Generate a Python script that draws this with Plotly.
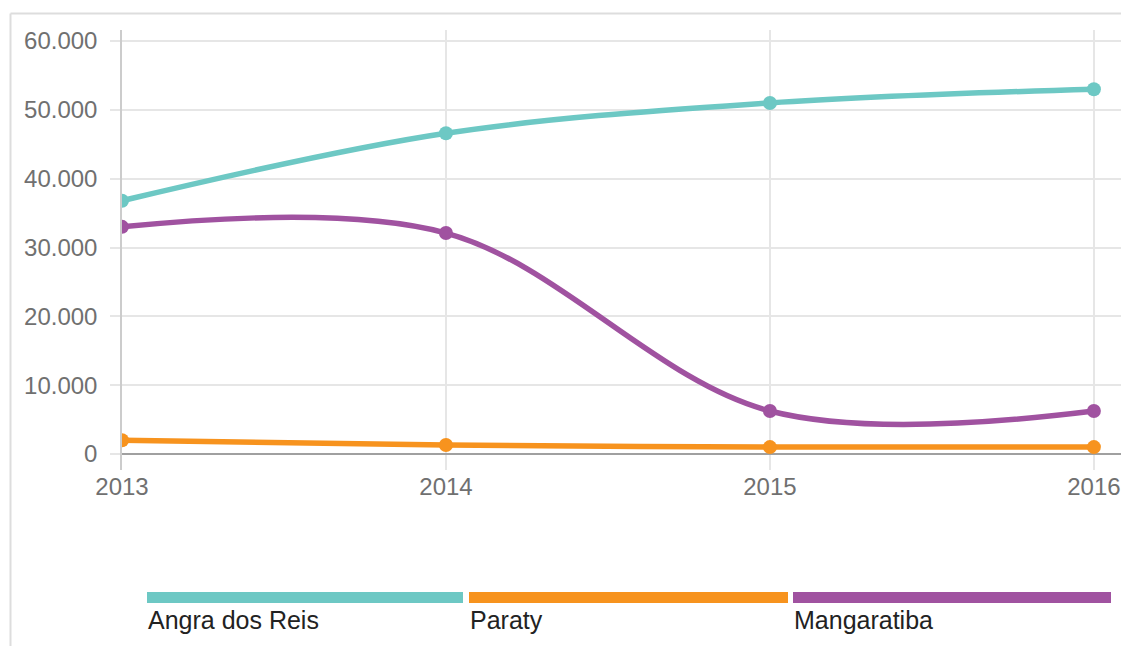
import plotly.graph_objects as go

years = [2013, 2014, 2015, 2016]
series_names = ["Angra dos Reis", "Paraty", "Mangaratiba"]
angra = [36800, 46600, 51000, 53000]
paraty = [2000, 1300, 1000, 1000]
mangaratiba = [33000, 32100, 6250, 6250]
colors = ["#6DC8C4", "#F7931E", "#A052A0"]
y_ticks = [0, 10000, 20000, 30000, 40000, 50000, 60000]

OFF = 8  # page body margin
W, H = 1129 - OFF, 646 - OFF
L, T = 122 - OFF, 30 - OFF
R = W - (1125 - OFF)
B = H - (470 - OFF)
pw, ph = W - L - R, H - T - B

def px(x):  # x in reference-window pixels
    return (x - OFF - L) / pw

def py(y):
    return (H - B - (y - OFF)) / ph

fig = go.Figure()
for name, vals, col in zip(series_names, [angra, paraty, mangaratiba], colors):
    fig.add_trace(go.Scatter(
        x=years, y=vals, name=name, mode="lines+markers",
        line=dict(color=col, width=5.5, shape="spline", smoothing=1),
        marker=dict(color=col, size=14),
        showlegend=False,
    ))

shapes = []
annotations = []
# frame
shapes.append(dict(type="line", xref="paper", yref="paper",
                   x0=px(10.5), x1=px(1150), y0=py(13.5), y1=py(13.5),
                   line=dict(color="#dddddd", width=2)))
shapes.append(dict(type="line", xref="paper", yref="paper",
                   x0=px(10.5), x1=px(10.5), y0=py(13.5), y1=py(680),
                   line=dict(color="#dddddd", width=2)))
# legend bars
bars = [(147, 463), (469, 788), (793, 1111)]
for (x0, x1), name, col in zip(bars, series_names, colors):
    shapes.append(dict(type="rect", xref="paper", yref="paper",
                       x0=px(x0), x1=px(x1), y0=py(603), y1=py(592),
                       fillcolor=col, line=dict(width=0)))
    annotations.append(dict(xref="paper", yref="paper", x=px(x0 - 1), y=py(604),
                            xanchor="left", yanchor="top", showarrow=False,
                            text=name, font=dict(family="Liberation Sans, Arial", size=25, color="#222222")))

fig.update_layout(
    width=W, height=H,
    margin=dict(l=L, r=R, t=T, b=B),
    plot_bgcolor="white", paper_bgcolor="white",
    separators=",.",
    font=dict(family="Liberation Sans, Arial", size=24, color="#707070"),
    shapes=shapes, annotations=annotations,
    xaxis=dict(range=[2013, 2016.096], tickvals=years, ticktext=[str(y) for y in years],
               showgrid=True, gridcolor="#e6e6e6", gridwidth=1.5,
               showline=False, zeroline=False, ticks="", fixedrange=True),
    yaxis=dict(range=[-2325, 61600], tickvals=y_ticks, tickformat=",d",
               showgrid=True, gridcolor="#e6e6e6", gridwidth=1.5,
               zeroline=True, zerolinecolor="#a0a0a0", zerolinewidth=1.5,
               showline=True, linecolor="#cccccc", linewidth=1.5,
               ticks="outside", ticklen=10, tickcolor="#e6e6e6", tickwidth=1.5,
               ticklabelstandoff=8),
)
fig.write_html("out.html")
